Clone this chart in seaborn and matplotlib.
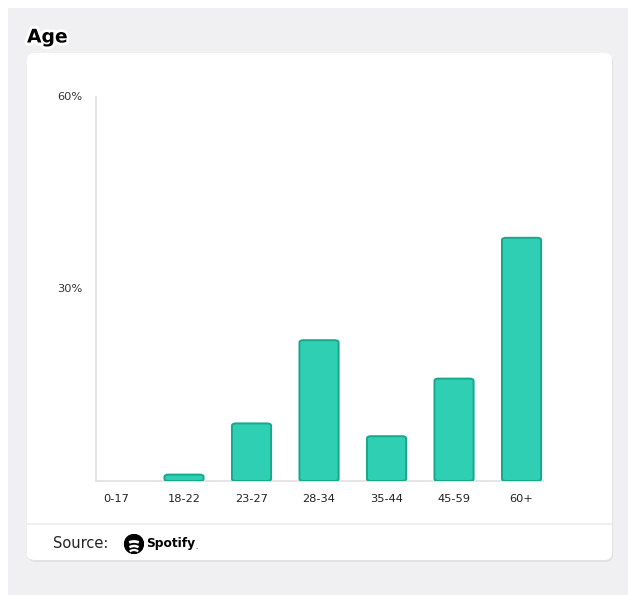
import matplotlib
matplotlib.use("Agg")
import matplotlib.pyplot as plt
import matplotlib.patheffects as pe
from matplotlib.patches import FancyBboxPatch, Rectangle, Circle, Arc
import seaborn as sns
import pandas as pd

# Listener share by age group (%)
age_groups = ["0-17", "18-22", "23-27", "28-34", "35-44", "45-59", "60+"]
shares = [0, 1, 9, 22, 7, 16, 38]
y_ticks = [30, 60]
y_tick_labels = ["30%", "60%"]

sns.set_theme(style="white")
plt.rcParams["font.family"] = ["DejaVu Sans"]

W, H = 628, 595
fig = plt.figure(figsize=(W / 100, H / 100), dpi=100)
fig.patch.set_facecolor("white")

def px(x, y):
    return x / W, 1 - y / H

# grey page background
fig.patches.append(Rectangle(px(8, H), (W - 8) / W, (H - 8) / H,
                             transform=fig.transFigure, facecolor="#f0f0f2",
                             edgecolor="none", zorder=-10))
# card shadow and card
for off, col in [(2, "#e2e2e4"), (0, "white")]:
    x0, y0 = px(27 + off * 0.5, 560 + off)
    fig.patches.append(FancyBboxPatch((x0, y0), (585) / W, (507) / H,
                                      boxstyle="round,pad=0,rounding_size=0.012",
                                      transform=fig.transFigure, facecolor=col,
                                      edgecolor="none", zorder=-9 + (off == 0)))
# footer separator
fig.add_artist(plt.Line2D([27 / W, 612 / W], [1 - 524 / H] * 2,
                          transform=fig.transFigure, color="#ececee", lw=1.2))

# title with white halo
fig.text(27 / W, 1 - 37 / H, "Age", fontsize=13.5, fontweight="bold",
         color="black", va="center", ha="left",
         path_effects=[pe.withStroke(linewidth=4, foreground="white")])

# source footer
fig.text(53 / W, 1 - 544 / H, "Source:", fontsize=10.5, color="#222222",
         va="center", ha="left")
logo_ax = fig.add_axes([(134 - 10) / W, 1 - (544 + 10) / H, 20 / W, 20 / H])
logo_ax.set_xlim(-1, 1)
logo_ax.set_ylim(-1, 1)
logo_ax.set_aspect("equal")
logo_ax.axis("off")
logo_ax.add_patch(Circle((0, 0), 0.95, color="black"))
for yy, w, lw in [(-0.55, 1.0, 1.6), (-0.15, 1.15, 1.8), (0.3, 1.35, 2.0)]:
    logo_ax.add_patch(Arc((0, yy - 0.55), w * 1.2, 1.0, theta1=40, theta2=140,
                          color="white", lw=lw))
fig.text(146 / W, 1 - 544 / H, "Spotify", fontsize=8.8, fontweight="bold",
         color="black", va="center", ha="left")
fig.text(195 / W, 1 - 547 / H, ".", fontsize=5, color="black", va="center")

# main chart axes
left, right = 96, 543
top, bottom = 97, 481
ax = fig.add_axes([left / W, 1 - bottom / H, (right - left) / W, (bottom - top) / H])
ax.set_facecolor("none")

df = pd.DataFrame({"age": age_groups, "share": shares})
sns.barplot(data=df, x="age", y="share", ax=ax, color="#2ecfb3",
            width=0.58, saturation=1)

# swap plain bars for rounded ones
bars = list(ax.patches)
for b in bars:
    x, y0 = b.get_x(), b.get_y()
    w, h = b.get_width(), b.get_height()
    b.remove()
    if h <= 0:
        continue
    ax.add_patch(FancyBboxPatch((x, y0), w, h,
                                boxstyle="round,pad=0,rounding_size=0.06",
                                mutation_aspect=6.0,
                                facecolor="#2ecfb3", edgecolor="#17a88c",
                                lw=1.4, zorder=3))

ax.set_xlim(-0.304, 6.318)
ax.set_ylim(0, 60)
ax.set_xlabel("")
ax.set_ylabel("")
ax.set_yticks(y_ticks)
ax.set_yticklabels(y_tick_labels)
ax.tick_params(axis="y", length=0, pad=10, labelsize=8.2, labelcolor="#333333")
ax.tick_params(axis="x", length=0, pad=9, labelsize=8.2, labelcolor="#222222")
for lab in ax.get_yticklabels():
    lab.set_verticalalignment("center")
for s in ["top", "right"]:
    ax.spines[s].set_visible(False)
ax.spines["left"].set_color("#e6e6e8")
ax.spines["left"].set_linewidth(1.5)
ax.spines["bottom"].set_color("#e0e0e2")
ax.spines["bottom"].set_linewidth(1.2)
ax.grid(False)

fig.savefig("out.png", dpi=100)
